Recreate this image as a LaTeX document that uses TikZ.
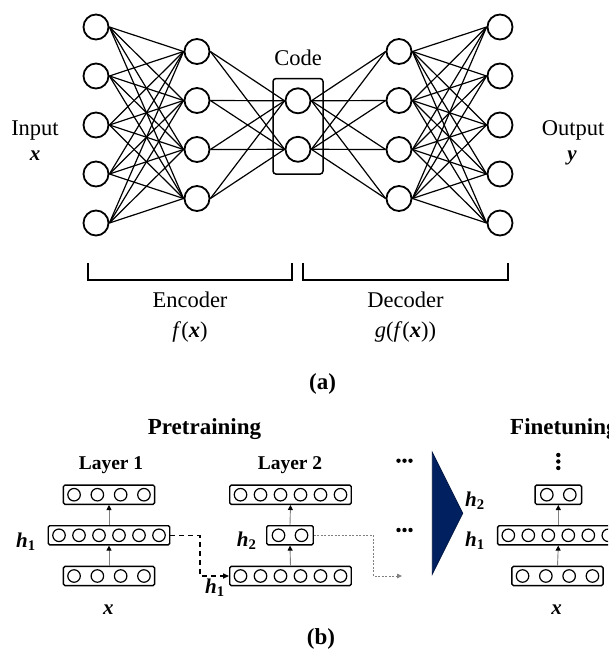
\documentclass[tikz,border=0pt]{standalone}
\usepackage{fontspec}
\setmainfont{Liberation Serif}
\usetikzlibrary{arrows.meta}
\definecolor{navy}{RGB}{0,32,96}

% bold italic symbol, and a symbol with a bold subscript
\newcommand\bsym[1]{\textbf{\textit{#1}}}
\newcommand\hsub[2]{\bsym{#1}\textsubscript{\textbf{#2}}}

% a row of units inside a box: name, x, y, box width, count, spacing
\newcommand\unitrow[6]{%
  \node[unitbox, minimum width=#4pt] (#1) at (#2,#3) {};
  \foreach \k in {1,...,#5}
    \node[unit] (#1-\k) at ({#2+(\k-(#5+1)/2)*#6},#3) {};
}

\tikzset{
  neuron/.style={circle, draw, line width=1.8pt, minimum size=25pt, inner sep=0pt},
  link/.style={line width=1.2pt},
  bracket/.style={line width=2.2pt},
  unitbox/.style={draw, line width=1.4pt, rounded corners=1.5pt, minimum height=19.2pt, inner sep=0pt},
  unit/.style={circle, draw, line width=1.2pt, minimum size=12.5pt, inner sep=0pt},
  lbl/.style={font=\fontsize{22.5}{27}\selectfont, inner sep=0pt},
  titlebf/.style={font=\bfseries\fontsize{23}{27}\selectfont, inner sep=0pt},
  layerbf/.style={font=\bfseries\fontsize{19.5}{23}\selectfont, inner sep=0pt},
  symb/.style={font=\fontsize{21}{24}\selectfont, inner sep=0pt},
  uparrow/.style={draw=gray, line width=0.9pt, -{Triangle[black,length=5pt,width=5pt]}},
  dasharrow/.style={line width=1.5pt, dash pattern=on 5pt off 4pt, -{Triangle[length=6pt,width=5pt]}},
  dotarrow/.style={draw=gray, line width=0.8pt, dash pattern=on 2pt off 1.5pt, -{Triangle[length=5pt,width=4.5pt]}},
}

\begin{document}
\begin{tikzpicture}[x=1pt,y=-1pt]
\useasboundingbox (0,0) rectangle (608,653);
\clip (0,0) rectangle (608,653);
\fill[white] (0,0) rectangle (608,653);

% ---------- (a) autoencoder ----------
\foreach \i in {1,...,5} {
  \node[neuron] (in\i) at (96,{27+49*(\i-1)}) {};
  \node[neuron] (out\i) at (500,{27+49*(\i-1)}) {};
}
\foreach \j in {1,...,4} {
  \node[neuron] (enc\j) at (197,{51.5+49*(\j-1)}) {};
  \node[neuron] (dec\j) at (399,{51.5+49*(\j-1)}) {};
}
\node[neuron] (code1) at (298,100.8) {};
\node[neuron] (code2) at (298,149.3) {};

\foreach \i in {1,...,5} {
  \foreach \j in {1,...,4} {
    \draw[link] (in\i.east) -- (enc\j.west);
    \draw[link] (dec\j.east) -- (out\i.west);
  }
}
\foreach \j in {1,...,4} {
  \foreach \k in {1,2} {
    \draw[link] (enc\j.east) -- (code\k.west);
    \draw[link] (code\k.east) -- (dec\j.west);
  }
}

\node[draw, line width=1.5pt, rounded corners=3pt, minimum width=50pt,
      minimum height=95.5pt, inner sep=0pt] (codebox) at (298,126.3) {};
\node[lbl, anchor=base] (codelbl) at (298,65) {Code};

\node[lbl, anchor=base] (inlbl) at (35,135.7) {Input};
\node[symb, anchor=base] (inx) at (35,160.5) {\bsym{x}};
\node[lbl, anchor=base] (outlbl) at (573,135.7) {Output};
\node[symb, anchor=base] (outy) at (572,160.5) {\bsym{y}};

\draw[bracket] (87.8,263) |- (292.3,280) -- (292.3,263);
\draw[bracket] (302.7,263) |- (508.3,280) -- (508.3,263);

\node[lbl, anchor=base] (enclbl) at (190,307.3) {Encoder};
\node[lbl, anchor=base] (encfn) at (190,337) {\textit{f}(\bsym{x})};
\node[lbl, anchor=base] (declbl) at (405.5,307.3) {Decoder};
\node[lbl, anchor=base] (decfn) at (405.5,337) {\textit{g}(\textit{f}(\bsym{x}))};

\node[titlebf, anchor=base] (capa) at (322.5,389.5) {(a)};

% ---------- (b) layer-wise pretraining ----------
\node[titlebf, anchor=base] (pretrain) at (204.5,434.3) {Pretraining};
\node[titlebf, anchor=base west] (finetune) at (510,434.3) {Finetuning};

\node[layerbf, anchor=base] (layerA) at (111,469) {Layer 1};
\node[layerbf, anchor=base] (layerB) at (290,469) {Layer 2};

% layer 1
\unitrow{aTop}{109}{494.7}{91.2}{4}{23.3}
\unitrow{aMid}{109}{535.3}{121.5}{6}{20}
\unitrow{aBot}{109}{576}{91.2}{4}{23.3}
\draw[uparrow] (aBot.north) -- (aMid.south);
\draw[uparrow] (aMid.north) -- (aTop.south);

% layer 2
\unitrow{bTop}{290.5}{494.7}{121.5}{6}{20}
\unitrow{bMid}{290}{535.3}{46.5}{2}{23}
\unitrow{bBot}{290.5}{576}{121.5}{6}{20}
\draw[uparrow] (bBot.north) -- (bMid.south);
\draw[uparrow] (bMid.north) -- (bTop.south);

% stacked network
\unitrow{cTop}{558.3}{494.7}{46.5}{2}{23}
\unitrow{cMid}{558.3}{535.3}{121.5}{6}{20}
\unitrow{cBot}{557.5}{576}{91.2}{4}{23.3}
\draw[uparrow] (cBot.north) -- (cMid.south);
\draw[uparrow] (cMid.north) -- (cTop.south);

% hand-over between layers
\draw[dasharrow] (aMid.east) -- (200,535.3) |- (bBot.west);
\coordinate (nextin) at (402,576);
\draw[dotarrow] (bMid.east) -- (373.3,535.3) |- (nextin);

% labels
\node[symb, anchor=base] (hA) at (26,547.3) {\hsub{h}{1}};
\node[symb, anchor=base] (hB) at (246.7,546.7) {\hsub{h}{2}};
\node[symb, anchor=base] (hIn) at (215,593) {\hsub{h}{1}};
\node[symb, anchor=base] (xA) at (108.3,614) {\bsym{x}};
\node[symb, anchor=base] (xC) at (556.7,614) {\bsym{x}};
\node[symb, anchor=base] (hT2) at (475,506.7) {\hsub{h}{2}};
\node[symb, anchor=base] (hT1) at (475,546) {\hsub{h}{1}};

% ellipses
\foreach \yy in {460.7,530} {
  \foreach \dx in {-6,0,6}
    \fill ({404.5+\dx},\yy) circle (2.2);
}
\foreach \yy in {455,461.5,468}
  \fill (558.3,\yy) circle (2.2);

% stacking wedge
\filldraw[fill=navy, draw=navy!70!black, line width=0.8pt]
  (432.3,452.3) -- (462.7,513.3) -- (432.3,574) -- cycle;

\node[titlebf, anchor=base] (capb) at (321,644) {(b)};
\end{tikzpicture}
\end{document}
